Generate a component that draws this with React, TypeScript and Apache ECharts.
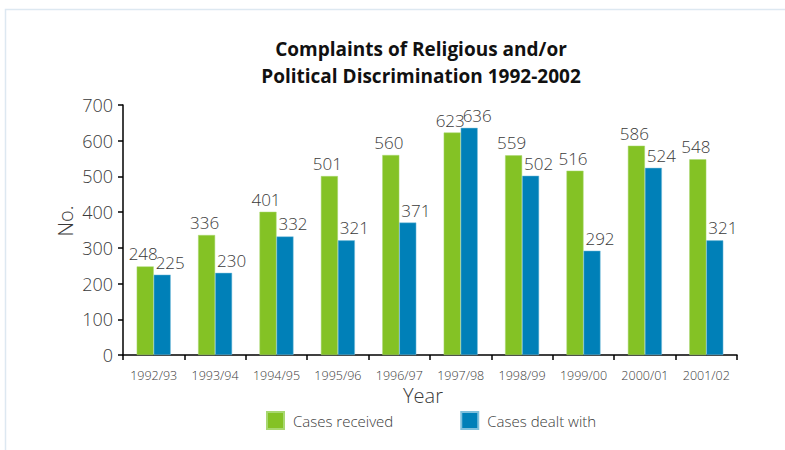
import React, { useEffect, useRef } from "react";
import * as echarts from "echarts";

const categories = ["1992/93", "1993/94", "1994/95", "1995/96", "1996/97", "1997/98", "1998/99", "1999/00", "2000/01", "2001/02"];
const casesReceived = [248, 336, 401, 501, 560, 623, 559, 516, 586, 548];
const casesDealtWith = [225, 230, 332, 321, 371, 636, 502, 292, 524, 321];
const seriesNames = ["Cases received", "Cases dealt with"];
const titleLines = ["Complaints of Religious and/or", "Political Discrimination 1992-2002"];

const GREEN = "#84c225";
const BLUE = "#0080b8";
const TEXT = "#3a3a3a";
const FONT = "'Open Sans', 'Noto Sans', sans-serif";

export default function App() {
  const ref = useRef<HTMLDivElement>(null);
  useEffect(() => {
    if (!ref.current) return;
    const chart = echarts.init(ref.current, null, { renderer: "svg" });
    chart.setOption({
      animation: false,
      backgroundColor: "#ffffff",
      textStyle: { fontFamily: FONT },
      title: {
        text: titleLines.join("\n"),
        left: 416,
        textAlign: "center",
        top: 30,
        textStyle: {
          fontFamily: FONT,
          fontWeight: "bold",
          fontSize: 19,
          lineHeight: 27,
          color: "#111111",
        },
      },
      graphic: [
        {
          type: "rect",
          shape: { x: 5.5, y: 9.5, width: 900, height: 600 },
          style: { fill: "none", stroke: "#dde8f1", lineWidth: 1.5 },
          silent: true,
          z: -1,
        },
        {
          type: "text",
          left: 403,
          top: 385,
          style: { text: "Year", fontFamily: FONT, fontSize: 20, fill: TEXT, fontWeight: 300 },
        },
        {
          type: "text",
          x: 65,
          y: 221,
          rotation: Math.PI / 2,
          style: { text: "No.", fontFamily: FONT, fontSize: 20, fill: TEXT, align: "center", verticalAlign: "middle", fontWeight: 300 },
        },
      ],
      legend: {
        data: seriesNames,
        left: 261,
        top: 406,
        itemWidth: 17,
        itemHeight: 17,
        itemGap: 67,
        icon: "rect",
        textStyle: { fontFamily: FONT, fontSize: 15, color: TEXT, fontWeight: 300, padding: [0, 0, 0, 4] },
      },
      grid: { left: 123, right: 48, top: 105, bottom: 95 },
      xAxis: {
        type: "category",
        data: categories,
        axisLine: { lineStyle: { color: "#000000", width: 1.5 } },
        axisTick: { show: true, interval: 0, alignWithLabel: false, length: 5, lineStyle: { color: "#000000", width: 1.5 } },
        axisLabel: { interval: 0, fontFamily: FONT, fontSize: 12.5, fontWeight: 300, color: TEXT, margin: 14 },
      },
      yAxis: {
        type: "value",
        min: 0,
        max: 700,
        interval: 100,
        axisLine: { show: true, lineStyle: { color: "#000000", width: 1.5 } },
        axisTick: { show: true, length: 5, lineStyle: { color: "#000000", width: 1.5 } },
        axisLabel: { fontFamily: FONT, fontSize: 18, fontWeight: 300, color: TEXT, margin: 10 },
        splitLine: { show: false },
      },
      series: [
        {
          name: seriesNames[0],
          type: "bar",
          data: casesReceived,
          barWidth: 17,
          barGap: "0%",
          itemStyle: { color: GREEN, borderColor: "#a8d870", borderWidth: 0.5 },
          label: { show: true, position: "top", distance: 4, fontFamily: FONT, fontSize: 17, fontWeight: 300, color: TEXT, offset: [-2, 0] },
        },
        {
          name: seriesNames[1],
          type: "bar",
          data: casesDealtWith,
          barWidth: 17,
          barGap: "0%",
          itemStyle: { color: BLUE, borderColor: "#7fc0dc", borderWidth: 0.5 },
          label: { show: true, position: "top", distance: 4, fontFamily: FONT, fontSize: 17, fontWeight: 300, color: TEXT, offset: [8, 0] },
        },
      ],
    });
    return () => chart.dispose();
  }, []);
  return <div ref={ref} style={{ position: "fixed", left: 0, top: 0, width: 785, height: 450 }} />;
}
